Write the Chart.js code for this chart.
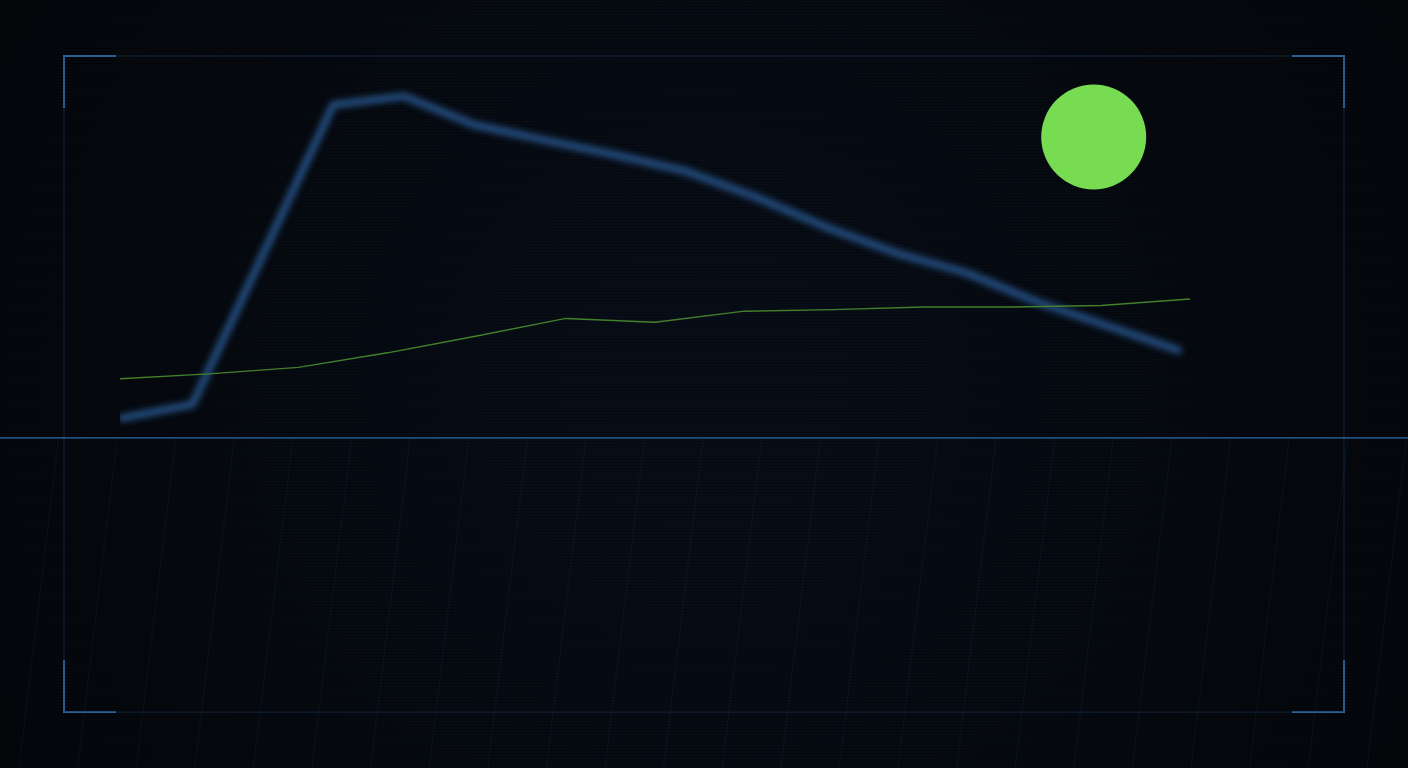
<!DOCTYPE html>
<html>
<head>
<meta charset="utf-8">
<script src="https://cdn.jsdelivr.net/npm/chart.js@4"></script>
<style>
  html, body { margin: 0; padding: 0; background: #05080c; overflow: hidden; }
  canvas { display: block; }
</style>
</head>
<body>
<canvas id="hud" width="1408" height="768"></canvas>
<script>
// thin green series, 13 evenly spaced samples
const greenValues = [15.5, 16.8, 18.5, 22.3, 26.7, 31.3, 30.3, 33.2, 33.6, 34.3, 34.3, 34.7, 36.4];
// thick blurred blue series, 16 evenly spaced samples
const blueValues = [5.2, 8.8, 48.0, 87.2, 89.5, 82.0, 78.0, 74.1, 69.9, 63.1, 55.2, 48.4, 43.2, 35.6, 29.3, 23.0];
// the single green marker
const markerX = [10.92];
const markerY = [78.8];

function drawBackdrop(chart) {
    const ctx = chart.ctx;
    const w = chart.width, h = chart.height;
    ctx.save();
    ctx.fillStyle = '#06090e';
    ctx.fillRect(0, 0, w, h);
    const g = ctx.createRadialGradient(w / 2, h / 2, 100, w / 2, h / 2, 900);
    g.addColorStop(0, 'rgba(8,14,24,0.9)');
    g.addColorStop(1, 'rgba(3,5,8,0.9)');
    ctx.fillStyle = g;
    ctx.fillRect(0, 0, w, h);

    // slanted floor lines under the horizon
    const horizon = 438;
    ctx.strokeStyle = 'rgba(40,70,110,0.18)';
    ctx.lineWidth = 1;
    for (let k = 0; k < 28; k++) {
        const x0 = 58.6 * k;
        ctx.beginPath();
        ctx.moveTo(x0, horizon);
        ctx.lineTo(x0 - 0.12 * (h - horizon), h);
        ctx.stroke();
    }

    // faint frame
    ctx.strokeStyle = 'rgba(30,60,95,0.3)';
    ctx.lineWidth = 2;
    ctx.strokeRect(64, 56, 1280, 656);

    // horizon line
    ctx.strokeStyle = '#2a64a0';
    ctx.lineWidth = 1.5;
    ctx.beginPath();
    ctx.moveTo(0, horizon);
    ctx.lineTo(w, horizon);
    ctx.stroke();

    // corner brackets
    ctx.strokeStyle = '#2a5f98';
    ctx.lineWidth = 2;
    const L = 52;
    const corners = [[64, 56, 1, 1], [1344, 56, -1, 1], [64, 712, 1, -1], [1344, 712, -1, -1]];
    corners.forEach(([cx, cy, sx, sy]) => {
        ctx.beginPath();
        ctx.moveTo(cx + sx * L, cy);
        ctx.lineTo(cx, cy);
        ctx.lineTo(cx, cy + sy * L);
        ctx.stroke();
    });

    // scanlines on the backdrop only
    ctx.fillStyle = 'rgba(0,0,0,0.2)';
    for (let y = 0; y < h; y += 3) {
        ctx.fillRect(0, y, w, 1);
    }
    ctx.restore();
}

const hudPlugin = {
    id: 'hud',
    beforeDraw: chart => drawBackdrop(chart),
    beforeDatasetDraw(chart, args) {
        if (chart.data.datasets[args.index].label === 'blue') {
            chart.ctx.save();
            chart.ctx.filter = 'blur(3px)';
        }
    },
    afterDatasetDraw(chart, args) {
        if (chart.data.datasets[args.index].label === 'blue') {
            chart.ctx.restore();
        }
    }
};

const ctx = document.getElementById('hud').getContext('2d');
new Chart(ctx, {
    type: 'line',
    data: {
        datasets: [
            {
                label: 'green',
                data: greenValues.map((v, i) => ({ x: i, y: v })),
                xAxisID: 'x',
                borderColor: '#43802c',
                borderWidth: 1.4,
                pointRadius: 0,
                tension: 0
            },
            {
                label: 'marker',
                data: markerX.map((v, i) => ({ x: v, y: markerY[i] })),
                xAxisID: 'x',
                showLine: false,
                pointRadius: 52.5,
                pointBackgroundColor: '#78dc52',
                pointBorderWidth: 0
            },
            {
                label: 'blue',
                data: blueValues.map((v, i) => ({ x: i, y: v })),
                xAxisID: 'xb',
                borderColor: '#234b7c',
                borderWidth: 8,
                pointRadius: 0,
                tension: 0,
                borderJoinStyle: 'round',
                borderCapStyle: 'round'
            }
        ]
    },
    options: {
        responsive: false,
        devicePixelRatio: 1,
        animation: false,
        layout: { padding: { left: 120, right: 218, top: 56, bottom: 330 } },
        plugins: { legend: { display: false }, tooltip: { enabled: false } },
        scales: {
            x: { type: 'linear', min: 0, max: 12, display: false },
            xb: { type: 'linear', min: -0.03, max: 15.17, display: false },
            y: { min: 0, max: 100, display: false }
        }
    },
    plugins: [hudPlugin]
});
</script>
</body>
</html>
